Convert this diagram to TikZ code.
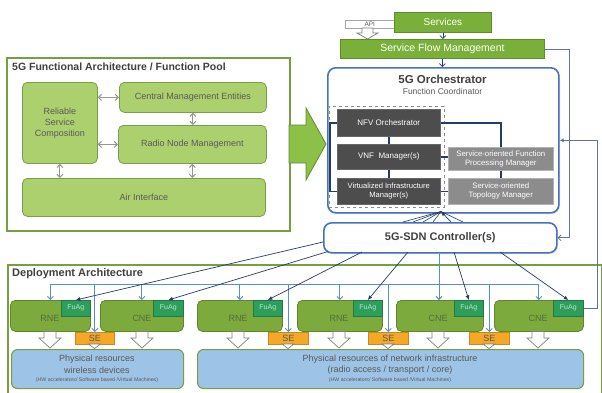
\documentclass[tikz,border=0pt]{standalone}
\usepackage{fontspec}
\setmainfont{Liberation Sans}
\usetikzlibrary{arrows.meta,shadows}
\definecolor{frameG}{RGB}{118,160,62}
\definecolor{lightG}{RGB}{173,208,110}
\definecolor{lightGb}{RGB}{120,160,70}
\definecolor{midG}{RGB}{122,176,58}
\definecolor{midGb}{RGB}{95,140,45}
\definecolor{bigG}{RGB}{140,192,72}
\definecolor{rneG}{RGB}{124,170,60}
\definecolor{rneGb}{RGB}{95,135,45}
\definecolor{fuG}{RGB}{45,158,92}
\definecolor{fuGb}{RGB}{35,120,70}
\definecolor{fuT}{RGB}{190,230,200}
\definecolor{seO}{RGB}{244,168,40}
\definecolor{seOb}{RGB}{205,135,30}
\definecolor{prB}{RGB}{157,195,230}
\definecolor{orchB}{RGB}{68,114,196}
\definecolor{navy}{RGB}{36,60,105}
\definecolor{treeB}{RGB}{85,142,213}
\definecolor{darkbox}{RGB}{77,77,77}
\definecolor{greybox}{RGB}{140,140,140}
\definecolor{txtG}{RGB}{89,89,89}
\definecolor{titleG}{RGB}{64,64,64}
\definecolor{retL}{RGB}{95,115,155}
\definecolor{rneT}{RGB}{85,110,65}
\definecolor{dblG}{RGB}{150,150,150}
\newcommand\hdarr[1]{\draw[harr] (#1-6,331.5) -- (#1+6,331.5) -- (#1+6,338) -- (#1+11,338) -- (#1,348) -- (#1-11,338) -- (#1-6,338) -- cycle;}
\newcommand\setri[1]{\draw[harr] (#1-6,344) -- (#1+6,344) -- (#1,348.5) -- cycle;}
\tikzset{
  bx/.style={anchor=north west, inner sep=0pt, align=center},
  frm/.style={bx, draw=frameG, line width=1.8pt, fill=white},
  fbox/.style={bx, fill=lightG, draw=lightGb, line width=0.8pt, rounded corners=5pt, text=txtG, font=\fontsize{9}{11}\selectfont},
  gbar/.style={bx, fill=midG, draw=midGb, line width=0.8pt, text=white, font=\fontsize{10.5}{12}\selectfont},
  dbox/.style={bx, fill=darkbox, draw=black!60, line width=0.6pt, text=white, font=\fontsize{8}{9.5}\selectfont},
  sbox/.style={bx, fill=greybox, draw=black!30, line width=0.6pt, text=white, font=\fontsize{8}{9.5}\selectfont},
  bframe/.style={bx, fill=white, draw=orchB, line width=1.6pt, rounded corners=8pt, drop shadow={shadow xshift=1.2pt,shadow yshift=-1.2pt,opacity=0.25}},
  ne/.style={bx, fill=rneG, draw=rneGb, line width=0.8pt, rounded corners=5pt},
  netxt/.style={inner sep=0pt, text=rneT, font=\fontsize{9}{10}\selectfont},
  fuag/.style={bx, fill=fuG, draw=fuGb, line width=0.6pt, text=fuT, font=\fontsize{7}{8}\selectfont},
  sebox/.style={bx, fill=seO, draw=seOb, line width=0.6pt, text=txtG, font=\fontsize{9}{10}\selectfont},
  prbox/.style={bx, fill=prB, draw=frameG, line width=1.1pt, rounded corners=6pt},
  prtxt/.style={inner sep=0pt, text=txtG},
  harr/.style={fill=white, draw=black!50, line width=0.7pt, line join=miter},
  dbl/.style={draw=dblG, line width=1pt, {Straight Barb[length=3pt,width=6pt]}-{Straight Barb[length=3pt,width=6pt]}},
  nv/.style={draw=navy, line width=1.4pt},
  nva/.style={draw=navy, line width=0.7pt, -{Latex[length=4.5pt,width=4pt]}},
  tb/.style={draw=treeB, line width=0.9pt},
  tba/.style={draw=treeB, line width=0.9pt, -{Straight Barb[length=3pt,width=6pt]}},
  ret/.style={draw=retL, line width=0.8pt},
  sm/.style={draw=navy, line width=0.7pt, -{Straight Barb[length=3pt,width=6pt]}},
  ttl/.style={inner sep=0pt, text=titleG, font=\fontsize{11}{12}\selectfont\bfseries},
}
\begin{document}
\begin{tikzpicture}[x=1pt,y=-1pt]
\useasboundingbox (0,0) rectangle (602,392);
\clip (0,0) rectangle (602,392);
\fill[white] (0,0) rectangle (602,392);

% ---------- Deployment architecture frame ----------
\node[frm, minimum width=594, minimum height=140] (DA) at (7,264) {};
\node[ttl, anchor=west] (DAt) at (12,274) {Deployment Architecture};

% ---------- 5G Functional Architecture frame ----------
\node[frm, minimum width=283, minimum height=173, drop shadow={shadow xshift=1.5pt,shadow yshift=-1.5pt,opacity=0.3}] (FA) at (6,57) {};
\node[ttl, anchor=west, font=\fontsize{10.5}{12}\selectfont\bfseries] (FAt) at (12,67) {5G Functional Architecture / Function Pool};
\node[fbox, minimum width=75, minimum height=81] (RSC) at (22,82) {Reliable\\Service\\Composition};
\node[fbox, minimum width=147, minimum height=30] (CME) at (119,82) {Central Management Entities};
\node[fbox, minimum width=148, minimum height=38] (RNM) at (118,125) {Radio Node Management};
\node[fbox, minimum width=243, minimum height=38] (AI) at (22,178) {Air Interface};
\draw[dbl] (RSC.east |- CME.west) -- (CME.west);
\draw[dbl] (RSC.east |- RNM.west) -- (RNM.west);
\draw[dbl] (CME.south) -- (CME.south |- RNM.north);
\draw[dbl] (RSC.south) -- (RSC.south |- AI.north);
\draw[dbl] (RNM.south) -- (RNM.south |- AI.north);

% big arrow
\draw[fill=bigG, draw=midGb, line width=0.8pt, line join=miter] (289,125) -- (306,125) -- (306,108) -- (326,144) -- (306,180) -- (306,163) -- (289,163) -- cycle;

% ---------- Top: services ----------
\node[bx, fill=white, draw=black!35, line width=0.6pt, minimum width=49, minimum height=8, text=txtG, font=\fontsize{6.5}{7}\selectfont] (API) at (345,20) {API};
\draw[harr] (362,28) -- (373,28) -- (373,33) -- (378,33) -- (367.5,39) -- (357,33) -- (362,33) -- cycle;
\node[gbar, minimum width=97, minimum height=20, font=\fontsize{10}{12}\selectfont] (SRV) at (394,12) {Services};
\node[gbar, minimum width=204, minimum height=19] (SFM) at (340,39) {Service Flow Management};

% ---------- Orchestrator ----------
\node[bframe, minimum width=231, minimum height=145] (ORC) at (327,67) {};
\node[ttl, font=\fontsize{11.5}{12}\selectfont\bfseries] (ORt) at (442.5,79) {5G Orchestrator};
\node[inner sep=0pt, text=txtG, font=\fontsize{8.5}{10}\selectfont] (ORs) at (442.5,91) {Function Coordinator};
\node[bx, draw=black!45, dashed, line width=0.7pt, minimum width=115, minimum height=101] (DSH) at (328.5,106) {};
\node[dbox, minimum width=103, minimum height=27] (NFV) at (337,109) {NFV Orchestrator};
\node[dbox, minimum width=103, minimum height=25] (VNF) at (337,144) {VNF~~Manager(s)};
\node[dbox, minimum width=103, minimum height=26, font=\fontsize{7.6}{9}\selectfont] (VIM) at (337,178) {Virtualized Infrastructure\\Manager(s)};
\node[sbox, minimum width=105, minimum height=23, font=\fontsize{7.8}{9.2}\selectfont] (SFP) at (448,147) {Service-oriented Function\\Processing Manager};
\node[sbox, minimum width=105, minimum height=26, font=\fontsize{7.8}{9.2}\selectfont] (STM) at (448,178) {Service-oriented\\Topology Manager};
\draw[nv] (NFV.west) -- ++(-7,0) |- (VIM.west);
\draw[nv] (NFV.south) -- (VNF.north);
\draw[nv] (VNF.south) -- (VIM.north);
\draw[nv] (NFV.east) -| (SFP.north);
\draw[nv] (VNF.east) -- (VNF.east -| SFP.west);
\draw[nv] (VIM.east) -- (STM.west);
\draw[nv] (SFP.south) -- (STM.north);

\draw[sm] (SRV.south) -- (SRV.south |- SFM.north);
\draw[sm] (SFM.south) -- (SFM.south |- ORC.north);

% ---------- SDN controller fan ----------
\coordinate (ftip) at (441,211.5);
\coordinate (f1) at (403,222);
\coordinate (f2) at (413,222);
\coordinate (f3) at (423,222);
\coordinate (f4) at (433,222);
\coordinate (f5) at (451,222);
\coordinate (f6) at (463,222);
\foreach \f in {f1,f2,f3,f4,f6} \draw[draw=navy, line width=0.6pt] (\f) -- (ftip);
\draw[nva] (f5) -- (ftip);

% ---------- NE boxes ----------
\node[ne, minimum width=80, minimum height=31] (RNE1) at (10,300) {};
\node[ne, minimum width=83, minimum height=31] (CNE1) at (100,300) {};
\node[ne, minimum width=85, minimum height=31] (RNE2) at (197,300) {};
\node[ne, minimum width=85, minimum height=31] (RNE3) at (297,300) {};
\node[ne, minimum width=87, minimum height=31] (CNE2) at (396,300) {};
\node[ne, minimum width=89, minimum height=31] (CNE3) at (494,300) {};
\node[netxt] (l1) at (50,318) {RNE};
\node[netxt] (l2) at (142,318) {CNE};
\node[netxt] (l3) at (238,318) {RNE};
\node[netxt] (l4) at (339,318) {RNE};
\node[netxt] (l5) at (438,318) {CNE};
\node[netxt] (l6) at (538,318) {CNE};
\node[fuag, minimum width=29, minimum height=16] (FU1) at (61,300) {FuAg};
\node[fuag, minimum width=30, minimum height=16] (FU2) at (153,300) {FuAg};
\node[fuag, minimum width=29, minimum height=16] (FU3) at (253,300) {FuAg};
\node[fuag, minimum width=29, minimum height=16] (FU4) at (353,300) {FuAg};
\node[fuag, minimum width=29, minimum height=16] (FU5) at (454,300) {FuAg};
\node[fuag, minimum width=30, minimum height=16] (FU6) at (553,300) {FuAg};

% SE boxes
\node[sebox, minimum width=39, minimum height=12] (SE1) at (75,332) {SE};
\node[sebox, minimum width=40, minimum height=12] (SE2) at (268,332) {SE};
\node[sebox, minimum width=40, minimum height=12] (SE3) at (368,332) {SE};
\node[sebox, minimum width=40, minimum height=12] (SE4) at (469,332) {SE};
\setri{94.5}\setri{288}\setri{388}\setri{489}

% hollow arrows
\hdarr{50}\hdarr{142}\hdarr{238}\hdarr{339}\hdarr{438}\hdarr{538}

% physical resources
\node[prbox, minimum width=172, minimum height=39] (PR1) at (11,349) {};
\node[prbox, minimum width=386, minimum height=39] (PR2) at (197,349) {};
\node[prtxt, font=\fontsize{9}{10}\selectfont] (p1a) at (97,359) {Physical resources};
\node[prtxt, font=\fontsize{9}{10}\selectfont] (p1b) at (97,370) {wireless devices};
\node[prtxt, font=\fontsize{5.2}{6}\selectfont] (p1c) at (97,380) {(HW accelerators/ Software based /Virtual Machines)};
\node[prtxt, font=\fontsize{9}{10}\selectfont] (p2a) at (390,359) {Physical resources of network infrastructure};
\node[prtxt, font=\fontsize{9}{10}\selectfont] (p2b) at (390,370) {(radio access / transport / core)};
\node[prtxt, font=\fontsize{5.2}{6}\selectfont] (p2c) at (390,380) {(HW accelerators/ Software based /Virtual Machines)};

% ---------- SDN controller box ----------
\node[bframe, minimum width=233, minimum height=30, font=\fontsize{11}{12}\selectfont\bfseries, text=titleG] (SDN) at (323,222) {5G-SDN Controller(s)};

% blue distribution tree
\coordinate (hub) at (439,284);
\draw[tb] (RNE1.north |- hub) -- (CNE3.north |- hub);
\draw[tba] (SDN.south -| hub) -- (CNE2.north -| hub);
\foreach \b in {RNE1,CNE1,RNE2,RNE3,CNE3} \draw[tba] (\b.north |- hub) -- (\b.north);
\foreach \b in {SE1,SE2,SE3,SE4} \draw[tba] (\b.north |- hub) -- (\b.north);

% navy control lines
\coordinate (s1) at (323,242);
\coordinate (s2) at (328,251.5);
\coordinate (s3) at (362,252);
\coordinate (s4) at (408,252);
\coordinate (s5) at (454,252);
\coordinate (s6) at (500,252);
\draw[nva] (s1) -- (FU1.north);
\draw[nva] (s2) -- (FU2.north);
\draw[nva] (s3) -- (FU3.north);
\draw[nva] (s4) -- (FU4.north);
\draw[nva] (s5) -- (FU5.north);
\draw[nva] (s6) -- (FU6.north);

% return lines
\draw[ret, -{Straight Barb[length=3pt,width=6pt]}] (SFM.east) -- ++(25,0) |- (SDN.east);
\draw[ret, -{Latex[length=4pt,width=4pt]}] (FU6.east) -- ++(14,0) |- (ORC.east);
\end{tikzpicture}
\end{document}
